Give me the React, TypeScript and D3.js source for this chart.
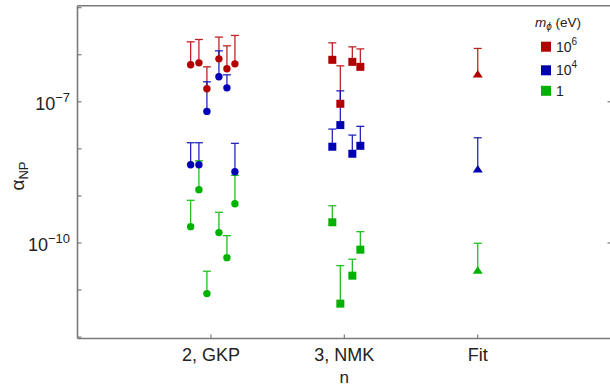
import React from "react";
import * as d3 from "d3";

const categories = ["2, GKP", "3, NMK", "Fit"];
const categoryPos = [2, 3, 4];
const massLabels = ["6", "4", ""]; // exponents for 10^x; "" => "1"
const colors = ["#b20000", "#0000b2", "#00b200"];

const gkpOffsets = [-0.152, -0.09, -0.03, 0.06, 0.12, 0.18];
const nmkOffsets = [-0.09, -0.03, 0.06, 0.12];

// GKP (circles): values and upper error ends, per mass
const gkpRed = [6.11e-7, 6.73e-7, 1.89e-7, 8.18e-7, 5.02e-7, 6.41e-7];
const gkpRedUp = [1.88e-6, 2.11e-6, 5.53e-7, 2.37e-6, 1.55e-6, 2.57e-6];
const gkpBlue = [4.59e-9, 4.59e-9, 6.25e-8, 3.4e-7, 1.98e-7, 3.27e-9];
const gkpBlueUp = [1.35e-8, 1.35e-8, 2.66e-7, 1.21e-6, 3.74e-7, 1.31e-8];
const gkpGreen = [2.22e-10, 1.36e-9, 8.39e-12, 1.66e-10, 4.88e-11, 6.82e-10];
const gkpGreenUp = [8.07e-10, 5.58e-9, 2.51e-11, 4.49e-10, 1.43e-10, 2.74e-9];

// NMK (squares)
const nmkRed = [7.8e-7, 9.08e-8, 7.06e-7, 5.53e-7];
const nmkRedUp = [1.79e-6, 5.81e-7, 1.47e-6, 1.33e-6];
const nmkBlue = [1.11e-8, 3.2e-8, 7.87e-9, 1.16e-8];
const nmkBlueUp = [2.63e-8, 1.71e-7, 1.96e-8, 3.01e-8];
const nmkGreen = [2.75e-10, 5.14e-12, 2.02e-11, 7.21e-11];
const nmkGreenUp = [6.19e-10, 3.3e-11, 4.51e-11, 1.74e-10];

// Fit (triangles)
const fitVals = [3.78e-7, 3.64e-9, 2.58e-11];
const fitUp = [1.36e-6, 1.72e-8, 9.86e-11];

const yTickExps = [-12, -11, -10, -9, -8, -7, -6, -5];
const yLabelExps = [-7, -10];

const W = 610;
const H = 388;
const left = 77.5;
const right = 610.5;
const top = 5.8;
const bottom = 338.5;

export default function App() {
  const x = d3.scaleLinear().domain([1, 4.995]).range([left, right]);
  const y = d3.scaleLog().domain([Math.pow(10, -12.03), Math.pow(10, -4.96)]).range([bottom, top]);

  type Pt = { x: number; v: number; up: number; c: number; shape: string };
  const pts: Pt[] = [];
  const gkp = [[gkpRed, gkpRedUp], [gkpBlue, gkpBlueUp], [gkpGreen, gkpGreenUp]];
  gkp.forEach(([vals, ups], c) =>
    vals.forEach((v, i) => pts.push({ x: categoryPos[0] + gkpOffsets[i], v, up: ups[i], c, shape: "circle" }))
  );
  const nmk = [[nmkRed, nmkRedUp], [nmkBlue, nmkBlueUp], [nmkGreen, nmkGreenUp]];
  nmk.forEach(([vals, ups], c) =>
    vals.forEach((v, i) => pts.push({ x: categoryPos[1] + nmkOffsets[i], v, up: ups[i], c, shape: "square" }))
  );
  fitVals.forEach((v, c) => pts.push({ x: categoryPos[2], v, up: fitUp[c], c, shape: "tri" }));

  const axisColor = "#7a7a7a";
  const font = "'Liberation Sans', Arial, sans-serif";

  return (
    <svg width={W} height={H} style={{ position: "absolute", left: 0, top: 0, background: "#fff" }} fontFamily={font}>
      {/* error bars */}
      {pts.map((p, i) => {
        const px = x(p.x);
        const py = y(p.v);
        const pu = y(p.up);
        return (
          <g key={"e" + i} stroke={colors[p.c]} strokeWidth={1.3} opacity={0.85}>
            <line x1={px} x2={px} y1={py} y2={pu} />
            <line x1={px - 4} x2={px + 4} y1={pu} y2={pu} />
          </g>
        );
      })}
      {/* markers */}
      {pts.map((p, i) => {
        const px = x(p.x);
        const py = y(p.v);
        if (p.shape === "circle") return <circle key={"m" + i} cx={px} cy={py} r={3.7} fill={colors[p.c]} />;
        if (p.shape === "square")
          return <rect key={"m" + i} x={px - 4} y={py - 4} width={8} height={8} fill={colors[p.c]} />;
        return (
          <path key={"m" + i} d={`M${px},${py - 4.5} L${px + 5},${py + 3} L${px - 5},${py + 3} Z`} fill={colors[p.c]} />
        );
      })}
      {/* frame (right edge sits just outside the picture) */}
      <g stroke={axisColor} strokeWidth={1.6} fill="none">
        <line x1={left} x2={right + 2} y1={bottom} y2={bottom} />
        <line x1={left} x2={right + 2} y1={top} y2={top} />
        <line x1={left} x2={left} y1={top} y2={bottom} />
        <line x1={right + 1.5} x2={right + 1.5} y1={top} y2={bottom} />
      </g>
      <g stroke={axisColor} strokeWidth={1.2}>
        {categoryPos.map((c, i) => (
          <line key={"xt" + i} x1={x(c)} x2={x(c)} y1={bottom} y2={bottom - 4} />
        ))}
        {yTickExps.map((e) => {
          const yy = y(Math.pow(10, e));
          if (yy < top || yy > bottom) return null;
          return <line key={"yt" + e} x1={left} x2={left + 4} y1={yy} y2={yy} />;
        })}
        {yLabelExps.map((e) => {
          const yy = y(Math.pow(10, e));
          return <line key={"yr" + e} x1={right + 1} x2={right - 3} y1={yy} y2={yy} />;
        })}
      </g>
      {/* x tick labels */}
      {categories.map((c, i) => (
        <text key={"xl" + i} x={x(categoryPos[i])} y={361} textAnchor="middle" fontSize={18} fill="#222">
          {c}
        </text>
      ))}
      <text x={x(3)} y={383} textAnchor="middle" fontSize={17} fill="#222">
        n
      </text>
      {/* y tick labels */}
      {yLabelExps.map((e) => {
        const yy = y(Math.pow(10, e));
        return (
          <text key={"yl" + e} x={70} y={yy + 8} textAnchor="end" fontSize={18} fill="#222">
            10<tspan fontSize={13} dy={-8}>{"\u2212" + Math.abs(e)}</tspan>
          </text>
        );
      })}
      {/* y label */}
      <text transform={`translate(24,176) rotate(-90)`} textAnchor="middle" fontSize={19} fill="#222">
        α<tspan fontSize={13} dy={4}>NP</tspan>
      </text>
      {/* legend */}
      <text x={535} y={27} fontSize={13.5} fill="#222">
        <tspan fontStyle="italic">m</tspan>
        <tspan fontStyle="italic" fontSize={10} dy={3}>ϕ</tspan>
        <tspan dy={-3}> (eV)</tspan>
      </text>
      {colors.map((col, i) => {
        const yy = [46.7, 70.3, 90.8][i];
        return (
          <g key={"lg" + i}>
            <rect x={541} y={yy - 5} width={10} height={10} fill={col} />
            <text x={556} y={yy + 5} fontSize={14} fill="#222">
              {massLabels[i] === "" ? "1" : "10"}
              {massLabels[i] !== "" && (
                <tspan fontSize={10} dy={-7}>
                  {massLabels[i]}
                </tspan>
              )}
            </text>
          </g>
        );
      })}
    </svg>
  );
}
